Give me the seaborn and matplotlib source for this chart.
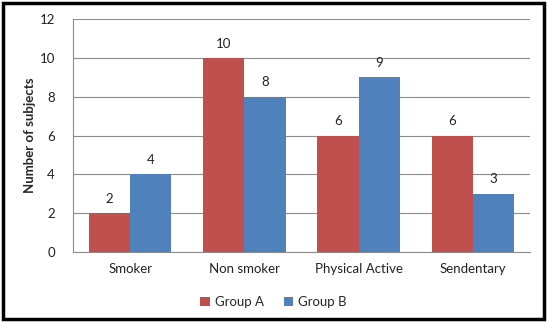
import pandas as pd
import seaborn as sns
import matplotlib.pyplot as plt
from matplotlib.patches import Rectangle

CATEGORIES = ['Smoker', 'Non smoker', 'Physical Active', 'Sendentary']
GROUP_A = [2, 10, 6, 6]
GROUP_B = [4, 8, 9, 3]
GROUPS = ['Group A', 'Group B']
PALETTE = ['#C0504D', '#4F81BD']

sns.set_theme(style='white')
plt.rcParams['font.family'] = ['Lato', 'DejaVu Sans']

df = pd.DataFrame({
    'Category': CATEGORIES * 2,
    'Group': [GROUPS[0]] * 4 + [GROUPS[1]] * 4,
    'Value': GROUP_A + GROUP_B,
})

fig = plt.figure(figsize=(5.47, 3.22), dpi=100)
ax = fig.add_axes([73 / 547, 1 - 252 / 322, (530 - 73) / 547, (252 - 19) / 322])

sns.barplot(
    data=df, x='Category', y='Value', hue='Group', palette=PALETTE,
    width=0.72, gap=0, saturation=1, linewidth=0, ax=ax, legend=True,
    zorder=3
)

# value labels above the bars
for container in ax.containers:
    ax.bar_label(container, padding=6, fontsize=9.5, color='#222222')

ax.set_ylim(0, 12)
ax.set_yticks(range(0, 13, 2))
ax.grid(axis='y', color='#8c8c8c', lw=0.8, zorder=0)
ax.set_xlabel('')
ax.set_ylabel('Number of subjects', fontsize=9.5, fontweight='bold')
ax.yaxis.set_label_coords(-0.082, 0.5)
ax.tick_params(axis='x', labelsize=9.5, length=0, pad=8, colors='#222222')
ax.tick_params(axis='y', labelsize=9.5, length=0, pad=13, colors='#222222')
for side in ['top', 'right']:
    ax.spines[side].set_visible(False)
for side in ['left', 'bottom']:
    ax.spines[side].set_color('#8c8c8c')
    ax.spines[side].set_linewidth(0.8)

ax.get_legend().remove()
handles, labels = ax.get_legend_handles_labels()
fig.legend(
    handles, labels, loc='center', bbox_to_anchor=(0.5, 1 - 302 / 322),
    ncol=2, frameon=False, fontsize=9.5, handlelength=0.7, handleheight=0.7,
    handletextpad=0.4, columnspacing=1.5
)

# outer chart border
fig.patches.append(Rectangle(
    (3 / 547, 3 / 322), 541 / 547, 316 / 322, transform=fig.transFigure,
    fill=False, edgecolor='black', lw=2.5
))

fig.savefig('out.png', dpi=100, facecolor='white')
